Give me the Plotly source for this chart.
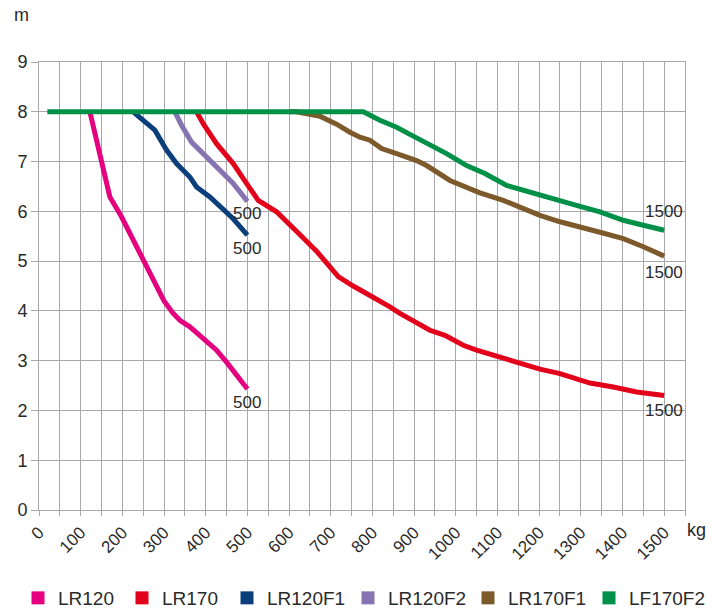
import plotly.graph_objects as go

# ---- data ----
series_names = ["LR120", "LR170", "LR120F1", "LR120F2", "LR170F1", "LF170F2"]
series_colors = ["#e4007f", "#e3001b", "#0b3f7c", "#8673b1", "#7c5a2b", "#009048"]

lr120_kg = [122, 144, 170, 198, 242, 282, 300, 322, 338, 362, 394, 426, 450, 474, 500]
lr120_m = [8.0, 7.2, 6.29, 5.89, 5.15, 4.48, 4.2, 3.95, 3.81, 3.68, 3.44, 3.21, 2.97, 2.71, 2.43]

lr170_kg = [378, 394, 426, 466, 498, 526, 570, 600, 630, 666, 698, 718, 754, 802, 842, 866,
            910, 938, 974, 1018, 1050, 1098, 1146, 1202, 1250, 1322, 1378, 1434, 1500]
lr170_m = [8.0, 7.76, 7.36, 6.96, 6.56, 6.22, 5.99, 5.76, 5.5, 5.2, 4.88, 4.69, 4.5, 4.28, 4.08, 3.95,
           3.74, 3.61, 3.51, 3.31, 3.21, 3.09, 2.96, 2.83, 2.74, 2.55, 2.47, 2.37, 2.30]

lr120f1_kg = [226, 250, 278, 306, 330, 362, 378, 410, 442, 466, 500]
lr120f1_m = [8.0, 7.83, 7.63, 7.23, 6.96, 6.69, 6.49, 6.29, 6.05, 5.85, 5.52]

lr120f2_kg = [326, 342, 366, 394, 426, 466, 500]
lr120f2_m = [8.0, 7.73, 7.39, 7.16, 6.89, 6.56, 6.2]

lr170f1_kg = [600, 618, 674, 714, 746, 770, 794, 822, 858, 906, 930, 986, 1058, 1114,
              1202, 1250, 1346, 1402, 1450, 1500]
lr170f1_m = [8.0, 8.0, 7.91, 7.75, 7.59, 7.49, 7.43, 7.26, 7.16, 7.02, 6.92, 6.62, 6.37, 6.22,
             5.92, 5.79, 5.58, 5.45, 5.29, 5.10]

lf170f2_kg = [20, 778, 818, 858, 898, 938, 978, 1026, 1070, 1122, 1170, 1250, 1298, 1346,
              1402, 1450, 1500]
lf170f2_m = [8.0, 8.0, 7.83, 7.69, 7.51, 7.34, 7.16, 6.92, 6.76, 6.52, 6.40, 6.20, 6.10, 5.99,
             5.82, 5.72, 5.62]

end_labels = ["500", "500", "500", "1500", "1500", "1500"]
end_label_x = [500, 500, 500, 1500, 1500, 1500]
end_label_y = [2.16, 5.96, 5.25, 2.0, 4.78, 6.0]

x_tick_vals = list(range(0, 1501, 100))
y_tick_vals = list(range(0, 10))

# ---- figure ----
FONT = "Liberation Sans, Arial, sans-serif"
TXT = "#2a2a2a"
GRID = "#a8a8a8"
FIG_W, FIG_H = 712, 600   # page body adds an 8px margin

xs = [lr120_kg, lr170_kg, lr120f1_kg, lr120f2_kg, lr170f1_kg, lf170f2_kg]
ys = [lr120_m, lr170_m, lr120f1_m, lr120f2_m, lr170f1_m, lf170f2_m]

legend_ids = ["legend", "legend2", "legend3", "legend4", "legend5", "legend6"]
legend_left_px = [10, 114, 219, 340, 460, 581]

fig = go.Figure()
for name, col, x, y in zip(series_names, series_colors, xs, ys):
    fig.add_trace(go.Scatter(x=x, y=y, mode="lines", name=name,
                             line=dict(color=col, width=5), showlegend=False,
                             hoverinfo="x+y+name"))
for name, col, lid in zip(series_names, series_colors, legend_ids):
    fig.add_trace(go.Scatter(x=[None], y=[None], mode="markers", name=name,
                             marker=dict(symbol="square", size=13, color=col,
                                         line=dict(width=0)),
                             showlegend=True, legend=lid))

for t, x, y in zip(end_labels, end_label_x, end_label_y):
    fig.add_annotation(x=x, y=y, text=t, showarrow=False, xanchor="center", yanchor="middle",
                       font=dict(family=FONT, size=17, color=TXT))

fig.add_annotation(xref="paper", yref="paper", x=-0.027, y=1.104, text="m", showarrow=False,
                   xanchor="center", yanchor="middle", font=dict(family=FONT, size=18, color=TXT))
fig.add_annotation(xref="paper", yref="paper", x=1.0, y=-0.045, text="kg", showarrow=False,
                   xanchor="left", yanchor="middle", font=dict(family=FONT, size=18, color=TXT))

legend_layouts = {}
for lid, lx in zip(legend_ids, legend_left_px):
    legend_layouts[lid] = dict(orientation="h", xref="container", yref="container",
                               x=lx / FIG_W, y=10 / FIG_H, xanchor="left", yanchor="middle",
                               font=dict(family=FONT, size=19, color=TXT),
                               bgcolor="rgba(0,0,0,0)", itemclick=False)

fig.update_layout(
    width=FIG_W, height=FIG_H,
    margin=dict(l=31, r=35, t=54, b=98, autoexpand=False),
    paper_bgcolor="white", plot_bgcolor="white",
    font=dict(family=FONT, color=TXT),
    **legend_layouts,
)
fig.update_xaxes(range=[0, 1550], tickvals=x_tick_vals, tickangle=-45,
                 tickfont=dict(family=FONT, size=17, color=TXT),
                 showgrid=True, gridcolor=GRID, gridwidth=1,
                 ticks="outside", ticklen=5, tickcolor=GRID,
                 minor=dict(dtick=50, tick0=0, showgrid=True, gridcolor=GRID, gridwidth=1,
                            ticks="outside", ticklen=5, tickcolor=GRID),
                 showline=True, linecolor=GRID, linewidth=1, mirror=True,
                 zeroline=False, fixedrange=True, automargin=False)
fig.update_yaxes(range=[0, 9], tickvals=y_tick_vals,
                 tickfont=dict(family=FONT, size=18, color=TXT),
                 showgrid=True, gridcolor=GRID, gridwidth=1,
                 ticks="outside", ticklen=7, tickcolor=GRID,
                 showline=True, linecolor=GRID, linewidth=1, mirror=True,
                 zeroline=False, fixedrange=True, automargin=False)

fig.write_html("out.html")
